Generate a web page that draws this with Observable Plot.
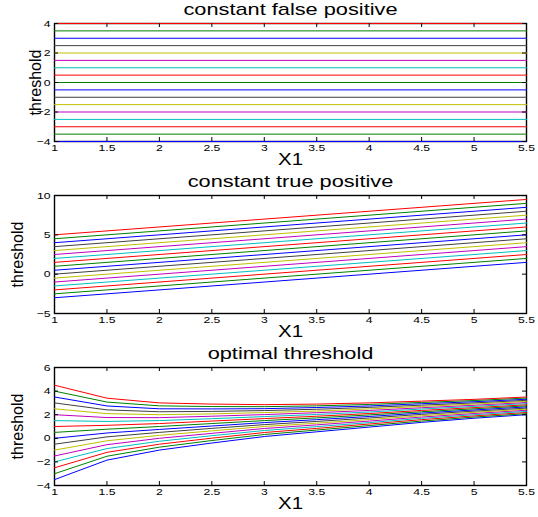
<!DOCTYPE html>
<html><head><meta charset="utf-8">
<script src="https://cdn.jsdelivr.net/npm/d3@7"></script>
<script src="https://cdn.jsdelivr.net/npm/@observablehq/plot@0.6"></script>
<style>
body{margin:0;background:#fff;}
#chart{width:538px;}
svg{display:block;}
</style></head><body><div id="chart"></div>
<script>
// shared
const xTicks = [1, 1.5, 2, 2.5, 3, 3.5, 4, 4.5, 5, 5.5];
const lineColors = ["#0000ff", "#008000", "#ff0000", "#00bfbf", "#bf00bf", "#bfbf00", "#404040"];

// panel 1: constant false positive (horizontal thresholds)
const fpTitle = "constant false positive";
const fpThresholds = [-4, -3.5, -3, -2.5, -2, -1.5, -1, -0.5, 0, 0.5, 1, 1.5, 2, 2.5, 3, 3.5, 4];
const fpYTicks = [-4, -2, 0, 2, 4];

// panel 2: constant true positive (value at X1=1 and at X1=5.5)
const tpTitle = "constant true positive";
const tpStart = [-3, -2.5, -2, -1.5, -1, -0.5, 0, 0.5, 1, 1.5, 2, 2.5, 3, 3.5, 4, 4.5, 5];
const tpEnd = [1.5, 2, 2.5, 3, 3.5, 4, 4.5, 5, 5.5, 6, 6.5, 7, 7.5, 8, 8.5, 9, 9.5];
const tpYTicks = [-5, 0, 5, 10];

// panel 3: optimal threshold (values at each X1 in xTicks)
const optTitle = "optimal threshold";
const optLines = [
  [-3.5, -1.85, -1.0, -0.40, 0.15, 0.55, 0.95, 1.35, 1.7, 2.00],
  [-3.0, -1.52, -0.75, -0.19, 0.32, 0.70, 1.08, 1.46, 1.8, 2.09],
  [-2.5, -1.19, -0.5, 0.01, 0.49, 0.84, 1.21, 1.58, 1.9, 2.19],
  [-2.0, -0.87, -0.25, 0.22, 0.66, 0.99, 1.33, 1.69, 2.0, 2.28],
  [-1.5, -0.54, 0, 0.42, 0.83, 1.14, 1.46, 1.80, 2.1, 2.38],
  [-1.0, -0.21, 0.25, 0.63, 1.00, 1.28, 1.59, 1.91, 2.2, 2.47],
  [-0.5, 0.12, 0.5, 0.84, 1.16, 1.43, 1.72, 2.03, 2.3, 2.56],
  [0, 0.45, 0.75, 1.04, 1.33, 1.58, 1.85, 2.14, 2.4, 2.66],
  [0.5, 0.77, 1.0, 1.25, 1.50, 1.73, 1.98, 2.25, 2.5, 2.75],
  [1.0, 1.10, 1.25, 1.46, 1.67, 1.87, 2.10, 2.36, 2.6, 2.84],
  [1.5, 1.43, 1.5, 1.66, 1.84, 2.02, 2.23, 2.48, 2.7, 2.94],
  [2.0, 1.76, 1.75, 1.87, 2.01, 2.17, 2.36, 2.59, 2.8, 3.03],
  [2.5, 2.09, 2.0, 2.07, 2.18, 2.31, 2.49, 2.70, 2.9, 3.13],
  [3.0, 2.41, 2.25, 2.28, 2.35, 2.46, 2.62, 2.81, 3.0, 3.22],
  [3.5, 2.74, 2.5, 2.49, 2.51, 2.61, 2.74, 2.93, 3.1, 3.31],
  [4.0, 3.07, 2.75, 2.69, 2.68, 2.75, 2.87, 3.04, 3.2, 3.41],
  [4.5, 3.40, 3.0, 2.90, 2.85, 2.90, 3.00, 3.15, 3.3, 3.50]
];
const optYTicks = [-4, -2, 0, 2, 4, 6];

const xLabel = "X1";
const yLabel = "threshold";

// build tidy tables
const x0 = xTicks[0], x1 = xTicks[xTicks.length - 1];
const fpData = fpThresholds.flatMap((v, i) => [
  {x: x0, y: v, i, c: lineColors[i % 7]},
  {x: x1, y: v, i, c: lineColors[i % 7]}
]);
const tpData = tpStart.flatMap((v, i) => [
  {x: x0, y: v, i, c: lineColors[i % 7]},
  {x: x1, y: tpEnd[i], i, c: lineColors[i % 7]}
]);
const optData = optLines.flatMap((row, i) => row.map((v, j) => ({x: xTicks[j], y: v, i, c: lineColors[i % 7]})));

const FONT = "'Liberation Sans', Arial, Helvetica, sans-serif";
const fmtNum = d => (d < 0 ? "\u2212" + Math.abs(d) : String(d));

function panel({title, data, yDomain, yTicks, yLabelDx, height}) {
  const W = 538, mt = 23, innerH = 118, mb = height - mt - innerH, ml = 54, mr = 12;
  const innerW = W - ml - mr;
  return Plot.plot({
    width: W, height,
    marginTop: mt, marginBottom: mb, marginLeft: ml, marginRight: mr,
    style: {fontFamily: FONT, background: "white", overflow: "visible", color: "#000"},
    x: {domain: [x0, x1], label: null},
    y: {domain: yDomain, label: null},
    color: {type: "identity"},
    marks: [
      Plot.frame({stroke: "#000", strokeWidth: 1.4}),
      Plot.line(data, {x: "x", y: "y", z: "i", stroke: "c", strokeWidth: 1}),
      Plot.ruleX(xTicks, {x: d => d, insetTop: innerH - 4, stroke: "#000"}),
      Plot.ruleX(xTicks, {x: d => d, insetBottom: innerH - 4, stroke: "#000"}),
      Plot.ruleY(yTicks, {y: d => d, insetRight: innerW - 4, stroke: "#000"}),
      Plot.ruleY(yTicks, {y: d => d, insetLeft: innerW - 4, stroke: "#000"}),
      Plot.axisX(xTicks, {tickSize: 0, tickPadding: 3, fontSize: 9.5, label: null, tickFormat: fmtNum}),
      Plot.axisY(yTicks, {tickSize: 0, tickPadding: 4, fontSize: 9.5, label: null, tickFormat: fmtNum}),
      Plot.text([title], {text: d => d, frameAnchor: "top", lineAnchor: "middle", dy: -13.5, fontSize: 17, fill: "#000"}),
      Plot.text([xLabel], {text: d => d, frameAnchor: "bottom", lineAnchor: "middle", dy: 18, fontSize: 16, fill: "#000"}),
      Plot.text([yLabel], {text: d => d, frameAnchor: "left", textAnchor: "middle", lineAnchor: "middle", dx: yLabelDx, rotate: -90, fontSize: 16, fill: "#000", className: "ylab"})
    ]
  });
}

const root = document.getElementById("chart");
const charts = [
  panel({title: fpTitle, data: fpData, yDomain: [-4, 4], yTicks: fpYTicks, yLabelDx: -19, height: 172}),
  panel({title: tpTitle, data: tpData, yDomain: [-5, 10], yTicks: tpYTicks, yLabelDx: -37, height: 172}),
  panel({title: optTitle, data: optData, yDomain: [-4, 6], yTicks: optYTicks, yLabelDx: -37, height: 173})
];
charts.forEach(c => root.appendChild(c));

// the reference is horizontally stretched: widen horizontal text glyphs
document.querySelectorAll("#chart svg text").forEach(t => {
  if (t.closest(".ylab")) return;
  const len = t.getComputedTextLength();
  if (len > 0) {
    t.setAttribute("textLength", (len * 1.28).toFixed(2));
    t.setAttribute("lengthAdjust", "spacingAndGlyphs");
  }
});
</script>
</body></html>
